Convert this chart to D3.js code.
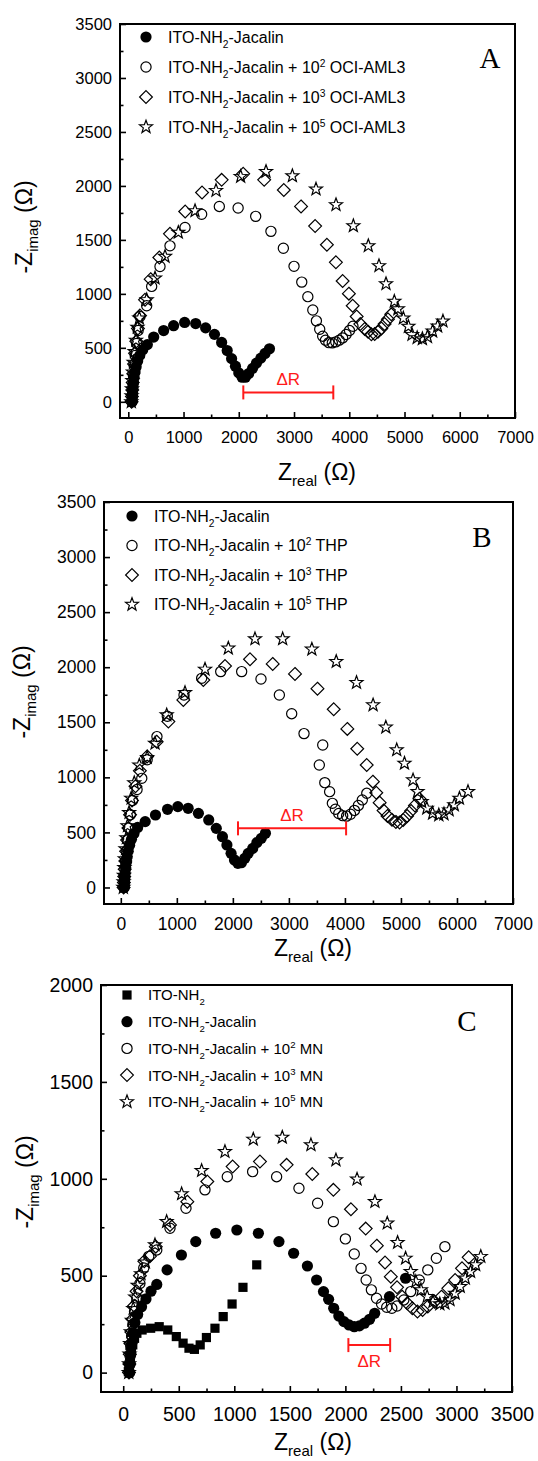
<!DOCTYPE html>
<html>
<head>
<meta charset="utf-8">
<script src="https://cdn.jsdelivr.net/npm/d3@7"></script>
<style>
body { margin: 0; background: #fff; }
svg { display: block; }
</style>
</head>
<body>
<script>
// ---- panel A : OCI-AML3 ----
var aJac = [[68,0],[72,40],[78,85],[85,130],[94,178],[106,226],[122,275],[142,325],[170,378],[208,430],[262,482],[345,530],[460,600],[640,660],[820,705],[1020,735],[1220,725],[1400,685],[1560,625],[1690,550],[1790,475],[1870,400],[1940,330],[2000,268],[2060,228],[2120,228],[2180,262],[2250,310],[2320,358],[2400,405],[2475,448],[2556,491]];
var aC2 = [[65,0],[70,45],[76,100],[84,165],[94,240],[108,330],[125,430],[150,540],[178,660],[212,791],[333,890],[423,1069],[574,1254],[755,1445],[1027,1615],[1328,1738],[1648,1810],[1988,1795],[2306,1718],[2582,1579],[2807,1423],[3000,1255],[3140,1109],[3250,974],[3340,851],[3405,750],[3465,672],[3519,608],[3569,571],[3631,548],[3693,546],[3756,555],[3818,571],[3880,592],[3942,623],[4004,660],[4067,700]];
var aC3 = [[60,0],[66,50],[72,110],[80,180],[90,260],[104,350],[122,450],[145,560],[175,680],[210,800],[303,945],[405,1136],[562,1337],[755,1556],[1030,1763],[1335,1939],[1690,2056],[2080,2112],[2460,2056],[2815,1962],[3127,1810],[3382,1628],[3595,1455],[3758,1292],[3880,1119],[3993,1002],[4062,890],[4134,790],[4200,720],[4280,675],[4340,650],[4400,625],[4460,628],[4520,648],[4580,680],[4640,720],[4700,765],[4760,810]];
var aC5 = [[55,0],[60,55],[66,120],[74,195],[84,275],[97,365],[115,465],[138,570],[165,690],[200,775],[333,945],[484,1146],[665,1346],[906,1569],[1208,1769],[1588,1957],[2034,2087],[2493,2133],[2970,2093],[3398,1970],[3760,1825],[4074,1630],[4345,1445],[4538,1260],[4665,1093],[4816,930],[4880,860],[4979,775],[5070,698],[5136,623],[5229,593],[5323,583],[5416,602],[5509,654],[5600,700],[5696,747]];
var aDeltaR = [2082, 3711, 87];

// ---- panel B : THP ----
var bJac = [[60,0],[66,40],[72,85],[79,132],[88,180],[100,228],[114,278],[132,330],[157,383],[190,437],[235,490],[300,545],[435,598],[619,658],[834,710],[1018,734],[1202,719],[1385,673],[1569,613],[1704,537],[1814,461],[1894,386],[1968,310],[2029,250],[2090,219],[2152,225],[2213,265],[2274,310],[2354,355],[2428,407],[2507,446],[2581,492]];
var bC2 = [[55,0],[60,45],[66,100],[74,165],[84,240],[98,330],[116,430],[140,540],[170,660],[210,790],[290,890],[374,991],[470,1160],[645,1370],[830,1555],[1128,1748],[1443,1899],[1783,1960],[2157,1960],[2502,1893],[2830,1748],[3050,1578],[3270,1397],[3604,1294],[3543,1112],[3641,952],[3727,870],[3776,764],[3830,710],[3890,672],[3960,652],[4030,648],[4100,665],[4170,700],[4240,745],[4310,795],[4390,855]];
var bC3 = [[50,0],[55,45],[61,100],[69,165],[80,240],[94,330],[112,430],[136,540],[165,660],[200,790],[262,920],[340,1060],[470,1190],[640,1324],[849,1506],[1116,1703],[1473,1884],[1860,2011],[2306,2072],[2711,2030],[3109,1939],[3510,1805],[3800,1618],[4043,1440],[4220,1260],[4389,1112],[4499,961],[4560,860],[4620,770],[4690,700],[4760,650],[4840,615],[4910,595],[4975,590],[5040,612],[5110,650],[5180,695],[5250,745],[5330,805]];
var bC5 = [[45,0],[50,50],[56,110],[63,180],[72,260],[84,350],[100,450],[120,560],[148,680],[185,810],[240,950],[330,1110],[470,1180],[611,1309],[819,1566],[1146,1769],[1503,1981],[1919,2172],[2395,2257],[2889,2257],[3410,2163],[3845,2051],[4207,1860],[4503,1657],[4730,1455],[4925,1249],[5063,1127],[5216,976],[5296,870],[5369,779],[5461,719],[5565,673],[5676,658],[5768,667],[5860,703],[5952,749],[6044,809],[6197,870]];
var bDeltaR = [2092, 4021, 537];

// ---- panel C : MN ----
var cITO = [[46,5],[56,40],[65,74],[74,108],[86,143],[102,177],[123,203],[170,220],[247,229],[324,237],[401,220],[478,186],[539,152],[592,126],[641,120],[693,143],[749,181],[826,229],[900,289],[980,354],[1078,440],[1202,556]];
var cJac = [[58,0],[62,45],[68,95],[76,150],[88,205],[105,258],[130,300],[165,340],[205,380],[250,420],[302,455],[395,530],[524,607],[653,676],[832,719],[1023,736],[1217,719],[1402,676],[1534,616],[1658,550],[1741,478],[1803,418],[1849,378],[1895,332],[1941,292],[1987,263],[2033,246],[2080,237],[2126,241],[2172,255],[2218,275],[2264,306],[2397,392],[2542,487]];
var cC2 = [[55,0],[58,40],[62,85],[68,135],[76,190],[87,250],[102,315],[122,385],[150,460],[185,540],[230,600],[302,633],[421,745],[565,848],[736,943],[937,1011],[1165,1037],[1381,1011],[1582,951],[1750,874],[1892,779],[2000,690],[2080,612],[2141,538],[2187,478],[2234,427],[2280,384],[2326,354],[2372,337],[2418,332],[2465,344],[2526,375],[2588,418],[2665,478],[2742,530],[2819,590],[2896,650]];
var cC3 = [[52,0],[55,45],[59,95],[65,150],[73,210],[84,275],[99,345],[120,420],[150,500],[190,575],[240,600],[293,650],[421,762],[577,882],[757,986],[985,1063],[1231,1089],[1471,1072],[1702,1025],[1892,943],[2050,843],[2183,743],[2283,655],[2357,568],[2409,495],[2465,440],[2511,392],[2557,358],[2603,332],[2649,315],[2695,323],[2742,341],[2803,366],[2865,392],[2927,435],[2988,478],[3050,538],[3110,595]];
var cC5 = [[50,0],[53,45],[57,95],[62,150],[69,210],[78,270],[90,330],[108,390],[130,450],[160,510],[200,570],[286,659],[391,779],[526,922],[706,1042],[916,1140],[1171,1204],[1432,1214],[1690,1175],[1915,1097],[2105,998],[2266,882],[2377,771],[2470,671],[2542,590],[2588,521],[2634,470],[2680,427],[2736,392],[2788,366],[2850,354],[2896,358],[2942,375],[2988,409],[3034,444],[3080,487],[3127,521],[3173,556],[3219,599]];
var cDeltaR = [2027, 2403, 142];

// legend wording
var cellNames = ["OCI-AML3", "THP", "MN"];
var doses = ["2", "3", "5"];
var panelLetters = ["A", "B", "C"];

var font = "'Liberation Sans', Arial, sans-serif";
var serif = "'Liberation Serif', 'Times New Roman', serif";
var red = "#ff1a1a";

var svg = d3.select("body").append("svg")
    .attr("width", 538)
    .attr("height", 1461);

function starPath(R, r) {
    var p = "";
    for (var i = 0; i < 10; i++) {
        var a = -Math.PI / 2 + i * Math.PI / 5;
        var rr = i % 2 ? r : R;
        p += (i ? "L" : "M") + (rr * Math.cos(a)).toFixed(2) + "," + (rr * Math.sin(a)).toFixed(2);
    }
    return p + "Z";
}

var markers = {
    square: { d: "M-4.6,-4.6h9.2v9.2h-9.2Z", fill: "#000" },
    dot: { d: d3.symbol().type(d3.symbolCircle).size(Math.PI * 5.6 * 5.6)(), fill: "#000" },
    circle: { d: d3.symbol().type(d3.symbolCircle).size(Math.PI * 5.1 * 5.1)(), fill: "none" },
    diamond: { d: "M0,-6.4L6.4,0L0,6.4L-6.4,0Z", fill: "none" },
    star: { d: starPath(6.8, 2.8), fill: "none" }
};

function putMarker(sel, type) {
    var m = markers[type];
    return sel.attr("d", m.d)
        .attr("fill", m.fill)
        .attr("stroke", m.fill === "none" ? "#000" : "none")
        .attr("stroke-width", 1.2);
}

function legendLabel(t, dose, cell, isIto) {
    t.append("tspan").text("ITO-NH");
    t.append("tspan").attr("font-size", "0.64em").attr("dy", 5).text("2");
    if (isIto) return;
    if (!dose) {
        t.append("tspan").attr("dy", -5).text("-Jacalin");
        return;
    }
    t.append("tspan").attr("dy", -5).text("-Jacalin + 10");
    t.append("tspan").attr("font-size", "0.64em").attr("dy", -6).text(dose);
    t.append("tspan").attr("dy", 6).text(" " + cell);
}

function drawPanel(p) {
    var x = d3.scaleLinear().domain(p.xDom).range([p.left, p.right]);
    var y = d3.scaleLinear().domain(p.yDom).range([p.bottom, p.top]);
    var g = svg.append("g");
    var fmt = d3.format("d");

    var xMaj = d3.range(0, p.xDom[1] + 1, p.xStep);
    var xMin = d3.range(p.xStep / 2, p.xDom[1], p.xStep);
    var yMaj = d3.range(0, p.yDom[1] + 1, 500);
    var yMin = d3.range(250, p.yDom[1], 500);

    // minor ticks
    g.append("g").attr("transform", "translate(0," + p.bottom + ")")
        .call(d3.axisBottom(x).tickValues(xMin).tickSize(-3.5).tickFormat(""))
        .call(function(a) { a.select(".domain").remove(); });
    g.append("g").attr("transform", "translate(" + p.left + ",0)")
        .call(d3.axisLeft(y).tickValues(yMin).tickSize(-3.5).tickFormat(""))
        .call(function(a) { a.select(".domain").remove(); });

    // major ticks with labels
    var xa = g.append("g").attr("transform", "translate(0," + p.bottom + ")")
        .call(d3.axisBottom(x).tickValues(xMaj).tickFormat(fmt).tickSizeInner(-6).tickSizeOuter(0).tickPadding(p.tickFont * 0.78))
        .call(function(a) { a.select(".domain").remove(); });
    var ya = g.append("g").attr("transform", "translate(" + p.left + ",0)")
        .call(d3.axisLeft(y).tickValues(yMaj).tickFormat(fmt).tickSizeInner(-6).tickSizeOuter(0).tickPadding(8))
        .call(function(a) { a.select(".domain").remove(); });
    [xa, ya].forEach(function(a) {
        a.attr("font-family", null).attr("font-size", null);
        a.selectAll("text").style("font-family", font).style("font-size", p.tickFont + "px").attr("fill", "#000");
    });
    g.selectAll("line").attr("stroke-width", 1.6);

    // frame
    g.append("rect")
        .attr("x", p.left).attr("y", p.top)
        .attr("width", p.right - p.left).attr("height", p.bottom - p.top)
        .attr("fill", "none").attr("stroke", "#000").attr("stroke-width", 2);

    // data
    p.series.forEach(function(s) {
        putMarker(g.append("g").selectAll("path").data(s.data).join("path"), s.marker)
            .attr("transform", function(d) { return "translate(" + x(d[0]) + "," + y(d[1]) + ")"; });
    });

    // legend
    p.series.forEach(function(s, i) {
        var ly = p.legY + i * p.legGap;
        putMarker(g.append("path"), s.marker).attr("transform", "translate(" + p.legX + "," + ly + ")");
        g.append("text")
            .attr("x", p.legX + p.legText).attr("y", ly + p.legFont * 0.36)
            .style("font-family", font).style("font-size", p.legFont + "px")
            .call(legendLabel, s.dose, p.cell, s.ito);
    });

    // panel letter
    g.append("text")
        .attr("x", p.letter[0]).attr("y", p.letter[1])
        .attr("text-anchor", "middle")
        .style("font-family", serif).style("font-size", "29px")
        .text(p.name);

    // delta R bar
    var dr = p.deltaR;
    var x0 = x(dr[0]), x1 = x(dr[1]), yb = y(dr[2]);
    var bar = g.append("g").attr("stroke", red).attr("stroke-width", 2);
    bar.append("line").attr("x1", x0).attr("x2", x1).attr("y1", yb).attr("y2", yb);
    bar.append("line").attr("x1", x0).attr("x2", x0).attr("y1", yb - 7).attr("y2", yb + 7);
    bar.append("line").attr("x1", x1).attr("x2", x1).attr("y1", yb - 7).attr("y2", yb + 7);
    g.append("text")
        .attr("x", (x0 + x1) / 2).attr("y", yb + p.deltaDy)
        .attr("text-anchor", "middle")
        .style("font-family", font).style("font-size", "17px")
        .attr("fill", red)
        .text("\u0394R");

    // axis titles
    g.append("text")
        .attr("x", p.xTitle[0]).attr("y", p.xTitle[1])
        .attr("text-anchor", "middle")
        .style("font-family", font).style("font-size", "23px")
        .call(function(t) {
            t.append("tspan").text("Z");
            t.append("tspan").attr("font-size", "15px").attr("dy", 6).text("real");
            t.append("tspan").attr("dy", -6).text(" (\u03A9)");
        });
    g.append("text")
        .attr("transform", "translate(" + p.yTitle[0] + "," + p.yTitle[1] + ") rotate(-90)")
        .attr("text-anchor", "middle")
        .style("font-family", font).style("font-size", "23px")
        .call(function(t) {
            t.append("tspan").text("-Z");
            t.append("tspan").attr("font-size", "15px").attr("dy", 6).text("imag");
            t.append("tspan").attr("dy", -6).text(" (\u03A9)");
        });
}

drawPanel({
    name: panelLetters[0], cell: cellNames[0],
    left: 120, right: 515, top: 24, bottom: 418,
    xDom: [-150, 7000], yDom: [-150, 3500], xStep: 1000, tickFont: 16.5,
    series: [
        { data: aJac, marker: "dot" },
        { data: aC2, marker: "circle", dose: doses[0] },
        { data: aC3, marker: "diamond", dose: doses[1] },
        { data: aC5, marker: "star", dose: doses[2] }
    ],
    legX: 146, legText: 22, legY: 37, legGap: 30, legFont: 16,
    letter: [490, 68], deltaR: aDeltaR, deltaDy: -7,
    xTitle: [317, 480], yTitle: [32, 227]
});

drawPanel({
    name: panelLetters[1], cell: cellNames[1],
    left: 104, right: 513, top: 502, bottom: 904,
    xDom: [-300, 7000], yDom: [-150, 3500], xStep: 1000, tickFont: 17.5,
    series: [
        { data: bJac, marker: "dot" },
        { data: bC2, marker: "circle", dose: doses[0] },
        { data: bC3, marker: "diamond", dose: doses[1] },
        { data: bC5, marker: "star", dose: doses[2] }
    ],
    legX: 132, legText: 22, legY: 516, legGap: 29.5, legFont: 16,
    letter: [482, 547], deltaR: bDeltaR, deltaDy: -7,
    xTitle: [313, 956], yTitle: [30, 692]
});

drawPanel({
    name: panelLetters[2], cell: cellNames[2],
    left: 101, right: 512, top: 985, bottom: 1392,
    xDom: [-200, 3500], yDom: [-100, 2000], xStep: 500, tickFont: 19.5,
    series: [
        { data: cITO, marker: "square", ito: true },
        { data: cJac, marker: "dot" },
        { data: cC2, marker: "circle", dose: doses[0] },
        { data: cC3, marker: "diamond", dose: doses[1] },
        { data: cC5, marker: "star", dose: doses[2] }
    ],
    legX: 127, legText: 21, legY: 995, legGap: 26.7, legFont: 15,
    letter: [467, 1031], deltaR: cDeltaR, deltaDy: 22,
    xTitle: [313, 1450], yTitle: [33, 1182]
});
</script>
</body>
</html>
